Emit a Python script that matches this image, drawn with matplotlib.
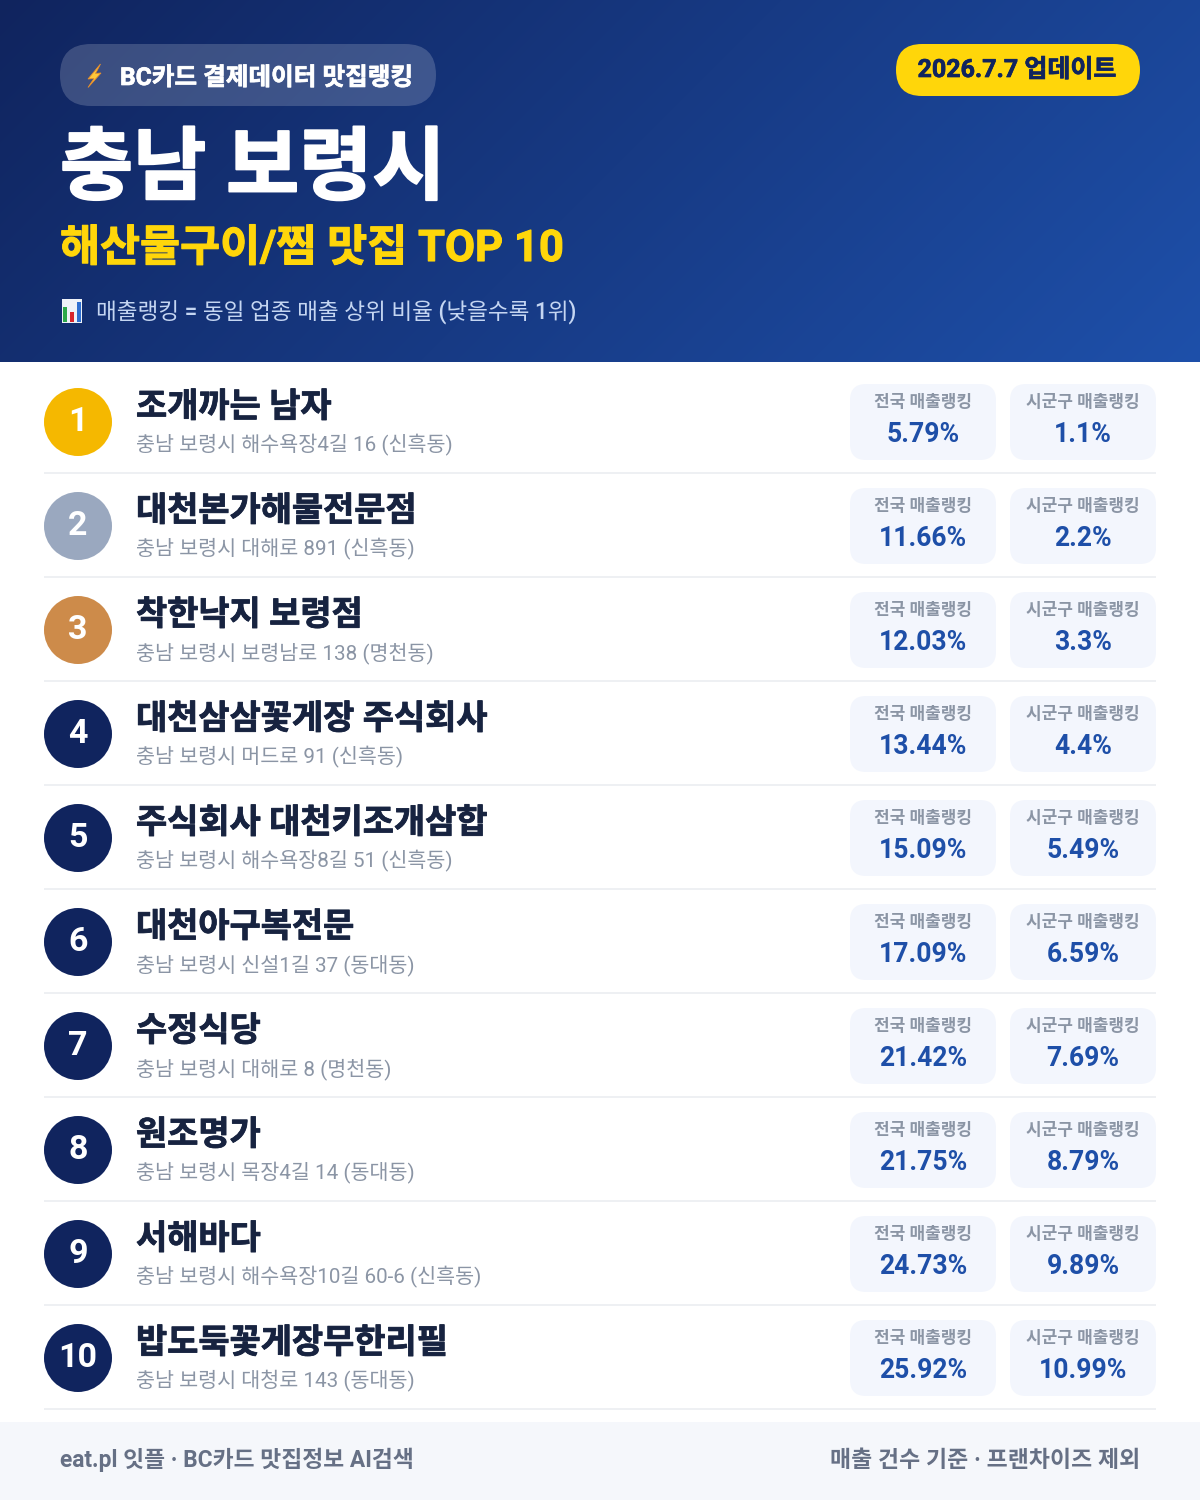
import matplotlib
matplotlib.use('Agg')
import matplotlib.pyplot as plt
import matplotlib.patheffects as pe
from matplotlib.patches import Circle, FancyBboxPatch, Rectangle, Polygon
import numpy as np

plt.rcParams['font.family'] = ['Roboto', 'Noto Sans CJK KR', 'DejaVu Sans']

names = ['조개까는 남자', '대천본가해물전문점', '착한낙지 보령점', '대천삼삼꽃게장 주식회사',
         '주식회사 대천키조개삼합', '대천아구복전문', '수정식당', '원조명가', '서해바다',
         '밥도둑꽃게장무한리필']
addresses = ['충남 보령시 해수욕장4길 16 (신흑동)', '충남 보령시 대해로 891 (신흑동)',
             '충남 보령시 보령남로 138 (명천동)', '충남 보령시 머드로 91 (신흑동)',
             '충남 보령시 해수욕장8길 51 (신흑동)', '충남 보령시 신설1길 37 (동대동)',
             '충남 보령시 대해로 8 (명천동)', '충남 보령시 목장4길 14 (동대동)',
             '충남 보령시 해수욕장10길 60-6 (신흑동)', '충남 보령시 대청로 143 (동대동)']
national = ['5.79%', '11.66%', '12.03%', '13.44%', '15.09%', '17.09%', '21.42%', '21.75%',
            '24.73%', '25.92%']
district = ['1.1%', '2.2%', '3.3%', '4.4%', '5.49%', '6.59%', '7.69%', '8.79%', '9.89%',
            '10.99%']
badge_colors = ['#f5b800', '#9aa8bf', '#cd8b4a'] + ['#10245e'] * 7

NAVY = '#10245e'
BLUE = '#1e4fa8'
YELLOW = '#ffd60a'


def px(size):
    # font size given in image pixels
    return size * 0.72


def thick(lw, color):
    # CJK family stops at bold, thicken the outlines a little
    return [pe.withStroke(linewidth=lw, foreground=color)]


def rounded(ax, x, y, w, h, r, color, alpha=1.0):
    ax.add_patch(FancyBboxPatch((x + r, y + r), w - 2 * r, h - 2 * r,
                                boxstyle='round,pad=%f,rounding_size=%f' % (r, r),
                                fc=color, ec='none', alpha=alpha, zorder=2))


fig = plt.figure(figsize=(12, 15), dpi=100)
ax = fig.add_axes([0, 0, 1, 1])
ax.set_xlim(0, 1200)
ax.set_ylim(1500, 0)
ax.axis('off')

# header gradient, 135deg
yy, xx = np.mgrid[0:362, 0:1200]
t = (xx + yy) / (1200 + 362)
c0 = np.array([0x10, 0x24, 0x5e]) / 255
c1 = np.array([0x1e, 0x50, 0xaa]) / 255
grad = c0[None, None, :] + (c1 - c0)[None, None, :] * t[:, :, None]
ax.imshow(grad, extent=(0, 1200, 362, 0), aspect='auto', zorder=1)
ax.set_xlim(0, 1200)
ax.set_ylim(1500, 0)

# header
rounded(ax, 60, 44, 376, 62, 31, 'white', 0.18)
ax.add_patch(Polygon([(100.5, 64), (88, 79), (94, 78.5), (88, 87.5), (101, 73), (95.5, 73.5)],
                     fc='#ffc83a', ec='#e8902a', lw=0.6, zorder=3))
ax.text(120, 85, 'BC카드 결제데이터 맛집랭킹', color='white', fontsize=px(24.6), fontweight='bold',
        va='baseline', zorder=3, path_effects=thick(0.5, 'white'))
rounded(ax, 896, 44, 244, 52, 26, YELLOW)
ax.text(1017, 77, '2026.7.7 업데이트', color=NAVY, fontsize=px(25), fontweight='bold',
        ha='center', va='baseline', zorder=3, path_effects=thick(0.5, NAVY))
ax.text(60, 193, '충남 보령시', color='white', fontsize=px(79.5), fontweight='bold',
        va='baseline', zorder=3, path_effects=thick(1.4, 'white'))
ax.text(60, 261, '해산물구이/찜 맛집 TOP 10', color=YELLOW, fontsize=px(43.5), fontweight='bold',
        va='baseline', zorder=3, path_effects=thick(0.8, YELLOW))

# chart icon
ax.add_patch(Rectangle((62, 299), 20, 24, fc='#eef2f8', ec='none', zorder=3))
ax.add_patch(Rectangle((63, 307), 4, 15, fc='#2da84a', ec='none', zorder=4))
ax.add_patch(Rectangle((70, 312), 4, 10, fc='#d8262c', ec='none', zorder=4))
ax.add_patch(Rectangle((77, 302), 4, 20, fc='#2f6fd0', ec='none', zorder=4))
ax.text(96, 319, '매출랭킹 = 동일 업종 매출 상위 비율 (낮을수록 1위)', color='#c5d6f2', fontsize=px(22.6),
        fontweight='medium', va='baseline', zorder=3)

# rows
for i, name in enumerate(names):
    top = 104 * i
    ax.add_patch(Circle((78, 422 + top), 34, fc=badge_colors[i], ec='none', zorder=2))
    ax.text(78, 431 + top, str(i + 1), color='white', fontsize=px(34), fontweight='bold',
            ha='center', va='baseline', zorder=3)
    ax.text(136, 417 + top, name, color='#172340', fontsize=px(33.9), fontweight='bold',
            va='baseline', zorder=3, path_effects=thick(0.6, '#172340'))
    ax.text(136, 451 + top, addresses[i], color='#8b95a5', fontsize=px(20.7),
            va='baseline', zorder=3)
    for x, label, val in [(850, '전국 매출랭킹', national[i]), (1010, '시군구 매출랭킹', district[i])]:
        rounded(ax, x, 384 + top, 146, 76, 16, '#f3f6fd')
        ax.text(x + 73, 407 + top, label, color='#8b95a5', fontsize=px(17), fontweight='bold',
                ha='center', va='baseline', zorder=3)
        ax.text(x + 73, 442 + top, val, color=BLUE, fontsize=px(26.5), fontweight='bold',
                ha='center', va='baseline', zorder=3)
    ax.add_patch(Rectangle((44, 472 + top), 1112, 2, fc='#eef0f3', ec='none', zorder=2))

# footer
ax.add_patch(Rectangle((0, 1422), 1200, 78, fc='#f5f7fb', ec='none', zorder=1))
ax.text(60, 1467, 'eat.pl 잇플 · BC카드 맛집정보 AI검색', color='#667085', fontsize=px(22.8),
        fontweight='bold', va='baseline', zorder=3)
ax.text(1140, 1467, '매출 건수 기준 · 프랜차이즈 제외', color='#667085', fontsize=px(22.9),
        fontweight='bold', ha='right', va='baseline', zorder=3)

fig.savefig('out.png', dpi=100, facecolor='white')
